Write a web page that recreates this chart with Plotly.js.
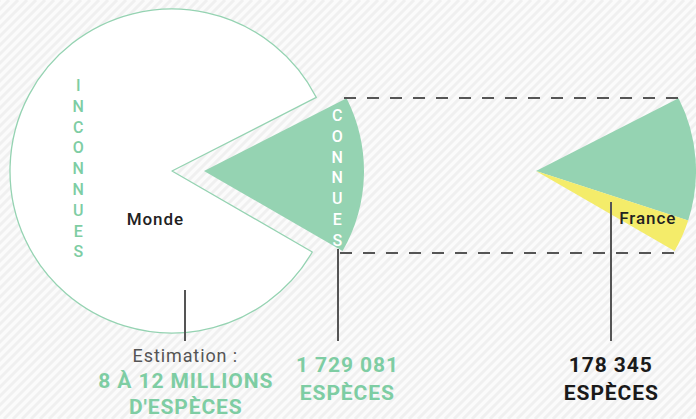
<!DOCTYPE html>
<html>
<head>
<meta charset="utf-8">
<script src="https://cdn.plot.ly/plotly-3.0.1.min.js"></script>
<style>
html,body{margin:0;padding:0;background:#fbfbfb;}
#chart{width:696px;height:419px;}
#chart .annotation-text{letter-spacing:0.9px;}
</style>
</head>
<body>
<div id="chart"></div>
<script>
// ---- data (angular shares, in degrees) ----
const worldLabels = ['Connues', 'Inconnues'];
const worldShareDeg = [57, 303];
const franceLabels = ['Connues (hors France)', 'France', ''];
const franceShareDeg = [45, 12, 303];
const countTitles = ['Estimation :', '', ''];
const countValues = ['8 À 12 MILLIONS', '1 729 081', '178 345'];
const countUnits = ["D'ESPÈCES", 'ESPÈCES', 'ESPÈCES'];
const sliceWords = ['INCONNUES', 'CONNUES'];
const placeNames = ['Monde', 'France'];

// ---- styling / layout ----
const W = 696, H = 419;
const GREEN = '#95d3b2', GREEN_TXT = '#7ecda3', YELLOW = '#f4ec6a', DARK = '#555555', NONE = 'rgba(0,0,0,0)';
const px = x => x / W, py = y => 1 - y / H;
function dom(cx, cy, r) { return {x: [px(cx - r), px(cx + r)], y: [py(cy + r), py(cy - r)]}; }
const START = 63;

const traces = [
  { // world pie: unknown part outlined, known slice left empty (pulled out separately)
    type: 'pie', labels: worldLabels, values: worldShareDeg, sort: false, direction: 'clockwise',
    rotation: START, textinfo: 'none', hoverinfo: 'skip', showlegend: false,
    marker: {colors: [NONE, 'rgba(255,255,255,1)'], line: {color: [NONE, GREEN], width: [0, 1.3]}},
    domain: dom(172, 171, 162)
  },
  { // known wedge, pulled out
    type: 'pie', labels: worldLabels, values: worldShareDeg, sort: false, direction: 'clockwise',
    rotation: START, textinfo: 'none', hoverinfo: 'skip', showlegend: false,
    marker: {colors: [GREEN, NONE], line: {width: 0}},
    domain: dom(204, 171, 160)
  },
  { // France wedge
    type: 'pie', labels: franceLabels, values: franceShareDeg, sort: false, direction: 'clockwise',
    rotation: START, textinfo: 'none', hoverinfo: 'skip', showlegend: false,
    marker: {colors: [GREEN, YELLOW, NONE], line: {width: 0}},
    domain: dom(536, 171, 160)
  }
];

const stack = s => s.split('').join('<br>');
const FONT = 'Roboto, "DejaVu Sans", sans-serif';
const ann = (x, y, text, size, color, weight) => ({
  xref: 'paper', yref: 'paper', x: px(x), y: py(y), text: text, showarrow: false,
  xanchor: 'center', yanchor: 'middle', font: {family: FONT, size: size, color: color, weight: weight || 400}
});

const annotations = [
  ann(78, 168, stack(sliceWords[0]), 16, GREEN_TXT, 500),
  ann(337, 178, stack(sliceWords[1]), 16, '#ffffff', 500),
  ann(155, 219, placeNames[0], 17, '#222222', 500),
  ann(647, 218, placeNames[1], 17, '#222222', 500),
  ann(186, 355, countTitles[0], 18, DARK),
  ann(186, 381, countValues[0], 21, GREEN_TXT, 700),
  ann(186, 407, countUnits[0], 21, GREEN_TXT, 700),
  ann(347, 365, countValues[1], 21, GREEN_TXT, 700),
  ann(347, 393, countUnits[1], 21, GREEN_TXT, 700),
  ann(611, 365, countValues[2], 21, '#1a1a1a', 700),
  ann(611, 393, countUnits[2], 21, '#1a1a1a', 700)
];

const seg = (x0, y0, x1, y1, dash) => ({
  type: 'line', xref: 'paper', yref: 'paper', x0: px(x0), y0: py(y0), x1: px(x1), y1: py(y1),
  line: {color: DARK, width: 2, dash: dash || 'solid'}, layer: 'above'
});
const shapes = [
  seg(344, 98, 680, 98, '12px,11px'),
  seg(340, 253, 674, 253, '12px,11px'),
  seg(185, 290, 185, 341),
  seg(338, 249, 338, 341),
  seg(611, 202, 611, 341)
];

// faint diagonal hatching of the background
let lines = '';
for (let k = -H; k < W + H; k += 9) lines += `<line x1="${k}" y1="${H}" x2="${k + H}" y2="0"/>`;
const svg = `<svg xmlns="http://www.w3.org/2000/svg" width="${W}" height="${H}"><rect width="100%" height="100%" fill="#fbfbfb"/><g stroke="#f0f0f0" stroke-width="3">${lines}</g></svg>`;
const bg = 'data:image/svg+xml;charset=utf-8,' + encodeURIComponent(svg);

const layout = {
  width: W, height: H, margin: {l: 0, r: 0, t: 0, b: 0},
  paper_bgcolor: '#fbfbfb', plot_bgcolor: '#fbfbfb', showlegend: false,
  annotations: annotations, shapes: shapes,
  images: [{source: bg, xref: 'paper', yref: 'paper', x: 0, y: 1, sizex: 1, sizey: 1,
            xanchor: 'left', yanchor: 'top', sizing: 'stretch', layer: 'below'}]
};

Plotly.newPlot('chart', traces, layout, {displayModeBar: false, staticPlot: true});
</script>
</body>
</html>
